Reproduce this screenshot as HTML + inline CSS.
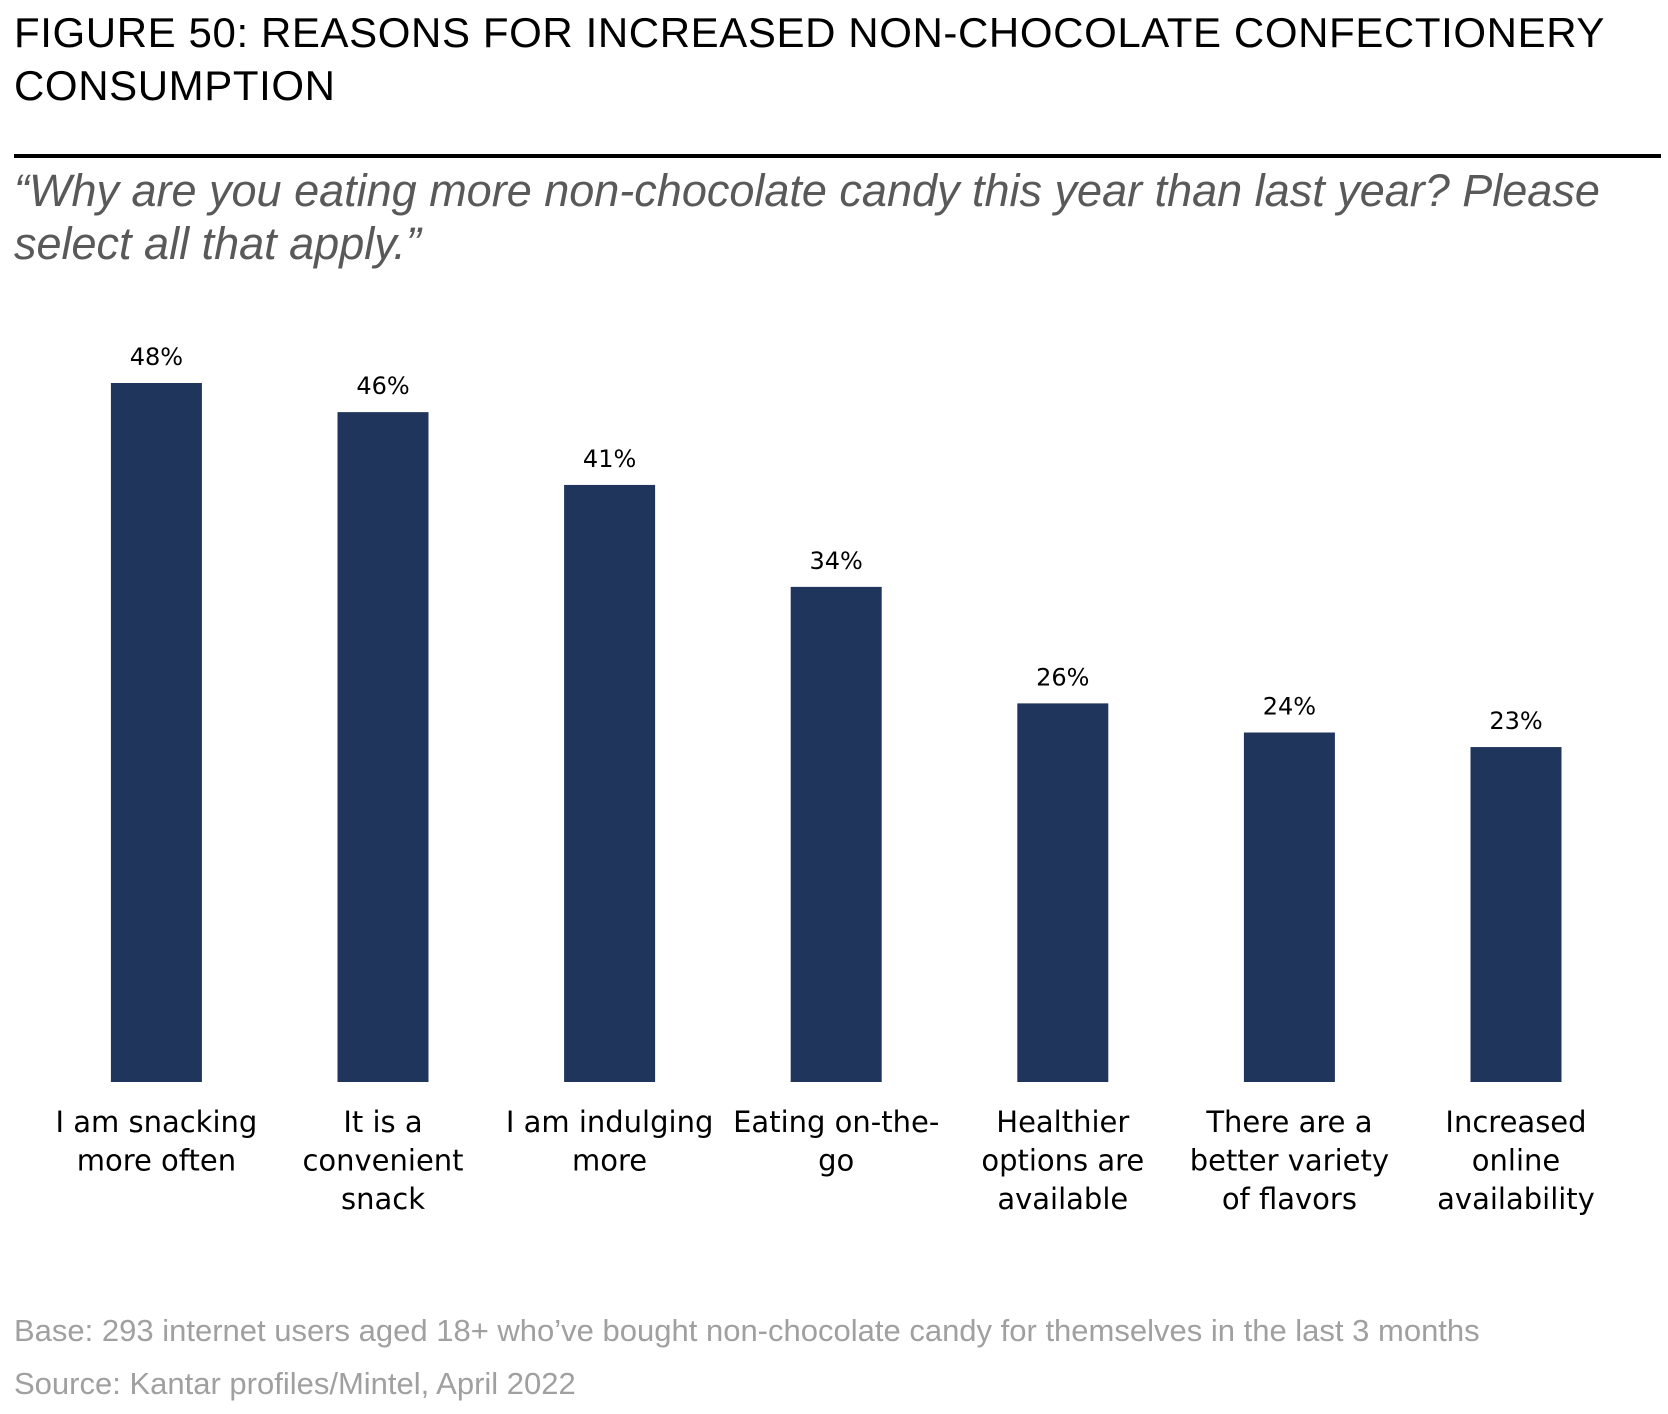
<!DOCTYPE html>
<html><head><meta charset="utf-8"><style>
body{margin:0;background:#fff;width:1668px;height:1414px;overflow:hidden;position:relative;font-family:"Liberation Sans",sans-serif}
.t{position:absolute;left:14px;top:6px;font-size:42px;line-height:53px;color:#000;letter-spacing:0.6px}
.rule{position:absolute;left:14px;top:154px;width:1647px;height:4px;background:#000}
.q{position:absolute;left:14px;top:164px;font-size:45px;line-height:53px;color:#595959;font-style:italic}
.f{position:absolute;left:14px;font-size:31px;color:#a0a0a0}
</style></head><body>
<div class="t">FIGURE 50: REASONS FOR INCREASED NON-CHOCOLATE CONFECTIONERY<br>CONSUMPTION</div>
<div class="rule"></div>
<div class="q">“Why are you eating more non-chocolate candy this year than last year? Please<br>select all that apply.”</div>
<svg id="c" width="1668" height="1414" style="position:absolute;left:0;top:0"></svg>
<div class="f" style="top:1313px">Base: 293 internet users aged 18+ who’ve bought non-chocolate candy for themselves in the last 3 months</div>
<div class="f" style="top:1366px">Source: Kantar profiles/Mintel, April 2022</div>
<script>
const categories=[["I am snacking","more often"],["It is a","convenient","snack"],["I am indulging","more"],["Eating on-the-","go"],["Healthier","options are","available"],["There are a","better variety","of flavors"],["Increased","online","availability"]];
const values=[48,46,41,34,26,24,23];
const valueLabels=["48%","46%","41%","34%","26%","24%","23%"];
const svg=document.getElementById('c');const NS='http://www.w3.org/2000/svg';
const x0=156.4,step=226.6,bw=91,base=1082,ppu=699/48;
function xs(i){return x0+i*step}
function ys(v){return base-v*ppu}
values.forEach((v,i)=>{
 const r=document.createElementNS(NS,'rect');
 r.setAttribute('x',xs(i)-bw/2);r.setAttribute('y',ys(v));r.setAttribute('width',bw);r.setAttribute('height',base-ys(v));r.setAttribute('fill','#1f355c');
 
 
 svg.appendChild(r);
 const t=document.createElementNS(NS,'text');
 t.setAttribute('x',xs(i));t.setAttribute('y',ys(v)-18);t.setAttribute('text-anchor','middle');t.setAttribute('font-size','24');t.setAttribute('font-family','"DejaVu Sans",sans-serif');t.textContent=valueLabels[i];
 
 
 svg.appendChild(t);
 categories[i].forEach((ln,j)=>{
  const l=document.createElementNS(NS,'text');
  l.setAttribute('x',xs(i));l.setAttribute('y',1132+j*38.5);l.setAttribute('text-anchor','middle');l.setAttribute('font-size','29');l.setAttribute('font-family','"DejaVu Sans",sans-serif');l.textContent=ln;
  
  
  svg.appendChild(l);
 });
});
</script>
</body></html>
